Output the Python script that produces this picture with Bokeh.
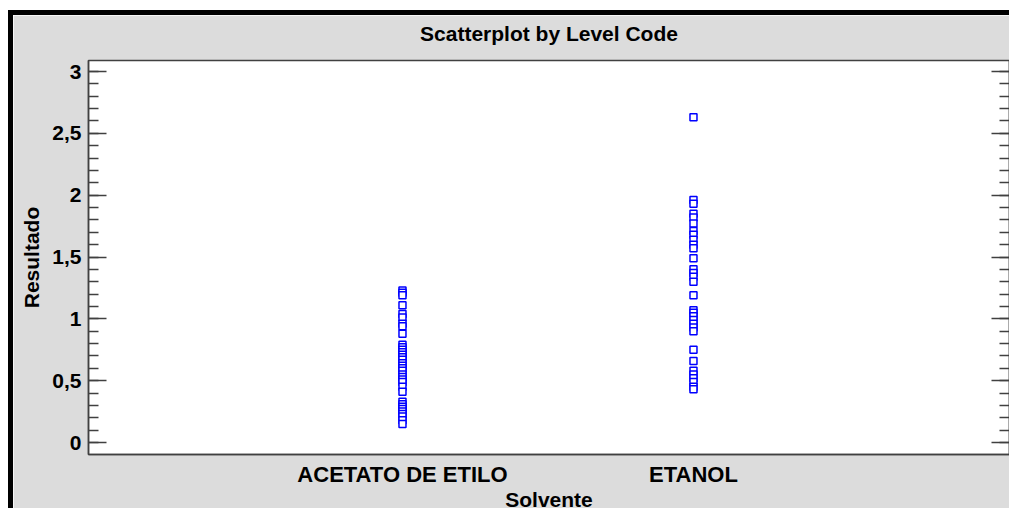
from bokeh.plotting import figure
from bokeh.models import (Range1d, FixedTicker, LinearAxis, CustomJSTickFormatter,
                          ColumnDataSource)
from bokeh.embed import file_html
from bokeh.resources import INLINE

# ---- data ----
title_text = "Scatterplot by Level Code"
categories = ["ACETATO DE ETILO", "ETANOL"]
acetato = [1.23, 1.21, 1.19, 1.11, 1.04, 1.01, 0.96, 0.94, 0.88,
           0.79, 0.77, 0.75, 0.73, 0.71, 0.69, 0.67, 0.64, 0.62, 0.60,
           0.58, 0.55, 0.53, 0.51, 0.49, 0.45, 0.41,
           0.33, 0.31, 0.29, 0.27, 0.25, 0.23, 0.21, 0.18, 0.15]
etanol = [2.63, 1.96, 1.93, 1.85, 1.82, 1.77, 1.71, 1.68, 1.64, 1.60, 1.57,
          1.49, 1.40, 1.37, 1.34, 1.30, 1.19,
          1.07, 1.05, 1.02, 0.99, 0.96, 0.93, 0.90,
          0.75, 0.66, 0.58, 0.55, 0.52, 0.49, 0.45, 0.43]
y_ticks = [0, 0.5, 1, 1.5, 2, 2.5, 3]
y_minor = [round(i * 0.1, 1) for i in range(-1, 31)]

groups = [acetato, etanol]
xs, ys = [], []
for i, vals in enumerate(groups):
    xs += [i + 1] * len(vals)
    ys += vals
src = ColumnDataSource(dict(x=xs, y=ys))

FONT = "Liberation Sans"
GRAY = "#dcdcdc"
LINE = "#404040"

p = figure(width=1001, height=498, output_backend="svg", toolbar_location=None,
           x_range=Range1d(-0.079, 3.086), y_range=Range1d(-0.097, 3.089),
           min_border_left=75, min_border_right=5, min_border_top=45,
           min_border_bottom=58,
           styles={"border-left": "5px solid black", "border-top": "5px solid black"})
p.margin = (10, 0, 0, 8)
p.background_fill_color = "white"
p.border_fill_color = GRAY
p.outline_line_color = LINE
p.outline_line_width = 1.5
p.xgrid.visible = False
p.ygrid.visible = False

p.scatter("x", "y", source=src, marker="square", size=7,
          line_color="#0000ff", fill_color="white", line_width=1.5)

# bottom x axis (grab it before any other axis is added)
xa = p.below[0]
xa.ticker = FixedTicker(ticks=[1, 2])
xa.major_label_overrides = {1: categories[0], 2: categories[1]}
xa.major_tick_in = 0
xa.major_tick_out = 0
xa.minor_tick_in = 0
xa.minor_tick_out = 0
xa.axis_line_color = LINE
xa.axis_line_width = 1.5
xa.major_label_text_font = FONT
xa.major_label_text_font_size = "22px"
xa.major_label_text_font_style = "bold"
xa.major_label_text_color = "black"
xa.major_label_standoff = 7
xa.axis_label = "Solvente"
xa.axis_label_text_font = FONT
xa.axis_label_text_font_size = "21px"
xa.axis_label_text_font_style = "bold"
xa.axis_label_text_color = "black"
xa.axis_label_standoff = -2

# left y axis
fmt = CustomJSTickFormatter(code="return tick.toString().replace('.', ',');")
ya = p.left[0]
ya.ticker = FixedTicker(ticks=y_ticks, minor_ticks=y_minor)
ya.formatter = fmt
ya.major_tick_in = 18
ya.major_tick_out = 0
ya.minor_tick_in = 10
ya.minor_tick_out = 0
ya.major_tick_line_color = LINE
ya.minor_tick_line_color = LINE
ya.major_tick_line_width = 1.5
ya.minor_tick_line_width = 1.5
ya.axis_line_color = LINE
ya.axis_line_width = 1.5
ya.major_label_text_font = FONT
ya.major_label_text_font_size = "21px"
ya.major_label_text_font_style = "bold"
ya.major_label_text_color = "black"
ya.major_label_standoff = 7
ya.axis_label = "Resultado"
ya.axis_label_text_font = FONT
ya.axis_label_text_font_size = "21px"
ya.axis_label_text_font_style = "bold"
ya.axis_label_text_color = "black"
ya.axis_label_standoff = 6

# mirrored right axis (ticks only)
ra = LinearAxis(ticker=FixedTicker(ticks=y_ticks, minor_ticks=y_minor),
                formatter=CustomJSTickFormatter(code="return '';"))
ra.major_tick_in = 18
ra.major_tick_out = 0
ra.minor_tick_in = 10
ra.minor_tick_out = 0
ra.major_tick_line_color = LINE
ra.minor_tick_line_color = LINE
ra.major_tick_line_width = 1.5
ra.minor_tick_line_width = 1.5
ra.axis_line_color = LINE
ra.axis_line_width = 1.5
ra.major_label_standoff = 0
p.add_layout(ra, "right")

# title drawn as the label of a bare top axis
ta = LinearAxis(ticker=FixedTicker(ticks=[]), axis_label=title_text)
ta.axis_line_color = None
ta.major_tick_in = 0
ta.major_tick_out = 0
ta.minor_tick_in = 0
ta.minor_tick_out = 0
ta.major_label_standoff = 0
ta.axis_label_standoff = 16
ta.axis_label_text_font = FONT
ta.axis_label_text_font_size = "21px"
ta.axis_label_text_font_style = "bold"
ta.axis_label_text_color = "black"
p.add_layout(ta, "above")

open("out.html", "w").write(file_html(p, INLINE))
